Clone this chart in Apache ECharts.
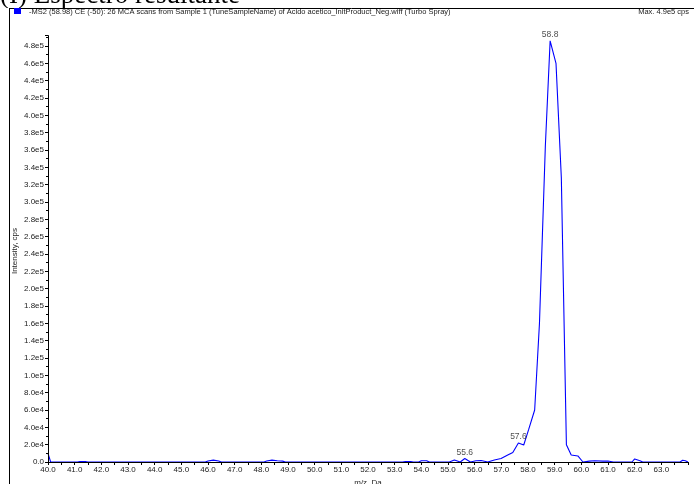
<!DOCTYPE html>
<html>
<head>
<meta charset="utf-8">
<script src="https://cdn.jsdelivr.net/npm/echarts@6/dist/echarts.min.js"></script>
<style>
html,body{margin:0;padding:0;background:#fff;}
#chart{width:694px;height:484px;}
</style>
</head>
<body>
<div id="chart"></div>
<script>
// m/z values (Da)
var mzValues = [40.0, 40.1, 41.1, 41.2, 41.4, 41.5, 45.9, 46.0, 46.2, 46.4, 46.5,
  48.1, 48.2, 48.4, 48.6, 48.8, 48.9, 53.3, 53.4, 53.6, 53.7, 53.9, 54.0, 54.2, 54.3,
  55.05, 55.24, 55.46, 55.63, 55.84, 56.05, 56.24, 56.49, 56.74, 56.99, 57.24, 57.43,
  57.64, 57.84, 58.02, 58.25, 58.43, 58.65, 58.83, 59.05, 59.25, 59.44, 59.62, 59.87,
  60.06, 60.3, 60.5, 60.8, 61.0, 61.2, 61.9, 62.0, 62.2, 62.3, 63.7, 63.8, 63.9, 64.0];
// intensity (cps)
var intensity = [10000, 0, 0, 600, 600, 0, 0, 1200, 2200, 1200, 0,
  0, 1200, 2200, 1500, 1000, 0, 0, 600, 600, 0, 0, 1500, 1500, 0,
  0, 2300, 0, 4000, 0, 1500, 1800, 0, 2300, 4000, 8000, 11000,
  22000, 19600, 37000, 60000, 160000, 364000, 486000, 460000, 328000, 20000, 8000, 7000,
  0, 1000, 1500, 1000, 1200, 0, 0, 3500, 1500, 0, 0, 2000, 1500, 0];
// annotated peaks
var peakMz = [58.83, 57.64, 55.63];
var peakIntensity = [486000, 22000, 4000];
var peakText = ["58.8", "57.6", "55.6"];

var titleText = "(I) Espectro resultante";
var headerText = "-MS2 (58.98) CE (-50): 26 MCA scans from Sample 1 (TuneSampleName) of Acido acetico_InitProduct_Neg.wiff (Turbo Spray)";
var maxText = "Max. 4.9e5 cps";
var xName = "m/z, Da";
var yName = "Intensity, cps";

var lineData = mzValues.map(function (m, i) { return [m, intensity[i]]; });
var peakData = peakMz.map(function (m, i) { return {value: [m, peakIntensity[i]], name: peakText[i]}; });

function yFmt(v) {
  if (v === 0) return "0.0";
  var e = Math.floor(Math.log10(v) + 1e-9);
  var m = v / Math.pow(10, e);
  return m.toFixed(1) + "e" + e;
}

var smallFont = '"Liberation Sans Narrow", "Arial Narrow", "Liberation Sans", Arial, sans-serif';
var chart = echarts.init(document.getElementById('chart'), null, {renderer: 'canvas'});
chart.setOption({
  animation: false,
  backgroundColor: '#ffffff',
  grid: {left: 48, right: 6, top: 35.6, bottom: 22, containLabel: false, outerBoundsMode: 'none'},
  xAxis: {
    type: 'value', min: 40, max: 64, interval: 1, z: 10,
    name: xName, nameLocation: 'middle', nameGap: 14,
    nameTextStyle: {fontFamily: smallFont, fontSize: 8, color: '#222'},
    axisLine: {show: true, lineStyle: {color: '#000', width: 1}},
    axisTick: {show: true, length: 3, lineStyle: {color: '#000'}},
    minorTick: {show: true, splitNumber: 2, length: 3, lineStyle: {color: '#000'}},
    axisLabel: {fontFamily: smallFont, fontSize: 8, color: '#222', margin: 4, showMaxLabel: false,
      formatter: function (v) { return v.toFixed(1); }},
    splitLine: {show: false}
  },
  yAxis: {
    type: 'value', min: 0, max: 492000, interval: 20000, z: 10,
    axisLine: {show: true, lineStyle: {color: '#000', width: 1}},
    axisTick: {show: true, length: 3, lineStyle: {color: '#000'}},
    minorTick: {show: true, splitNumber: 2, length: 2, lineStyle: {color: '#000'}},
    axisLabel: {fontFamily: smallFont, fontSize: 8, color: '#222', margin: 4, showMaxLabel: false,
      formatter: yFmt},
    splitLine: {show: false}
  },
  series: [
    {
      type: 'line', data: lineData, showSymbol: false, symbol: 'none', z: 2,
      lineStyle: {color: '#0000ff', width: 1.1}
    },
    {
      type: 'scatter', data: peakData, symbolSize: 1, z: 3,
      itemStyle: {color: 'rgba(0,0,0,0)'},
      label: {show: true, position: 'top', distance: 1, fontFamily: smallFont, fontSize: 8.5, color: '#222',
        formatter: function (p) { return p.name; }}
    }
  ],
  graphic: [
    {type: 'text', left: 0, top: -18, z: 1,
      style: {text: titleText, font: '27px "Liberation Serif", "Times New Roman", serif', fill: '#000'}},
    {type: 'rect', shape: {x: 0, y: 8, width: 694, height: 12}, style: {fill: '#fff'}, z: 2, silent: true},
    {type: 'line', shape: {x1: 9, y1: 8.5, x2: 694, y2: 8.5}, style: {stroke: '#000', lineWidth: 1}, z: 3},
    {type: 'line', shape: {x1: 9.5, y1: 8, x2: 9.5, y2: 484}, style: {stroke: '#000', lineWidth: 1}, z: 3},
    {type: 'rect', shape: {x: 14, y: 8, width: 7, height: 6}, style: {fill: '#0000ff'}, z: 3},
    {type: 'text', left: 29, top: 8, z: 3,
      style: {text: headerText, font: '7.5px ' + smallFont, fill: '#222'}},
    {type: 'text', right: 5, top: 8, z: 3,
      style: {text: maxText, font: '7.5px ' + smallFont, fill: '#222'}},
    {type: 'text', x: 15, y: 251, rotation: Math.PI / 2, z: 3,
      style: {text: yName, font: '8px ' + smallFont, fill: '#222', align: 'center', verticalAlign: 'middle'}}
  ]
});
</script>
</body>
</html>
